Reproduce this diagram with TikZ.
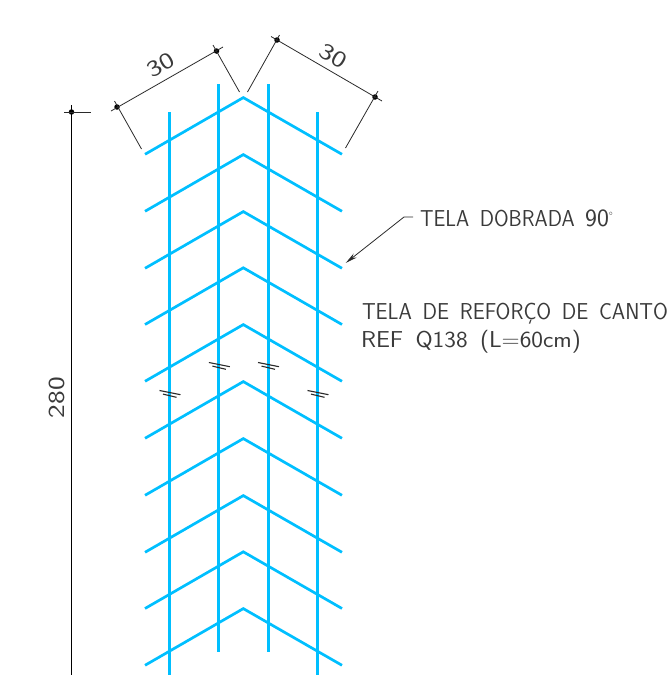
\documentclass[tikz,border=0pt]{standalone}
\usepackage{graphicx}
\usetikzlibrary{arrows.meta}
\definecolor{barblue}{HTML}{00BFFF}
\definecolor{dimgray}{HTML}{2A2A2A}
\definecolor{txtgray}{HTML}{3A3A3A}
\newcommand\fitw[2]{\resizebox{#1}{\height}{#2}}
\newcommand\smalldeg{\raisebox{6pt}{\fontsize{12}{12}\selectfont °}}
\tikzset{
  bar/.style={draw=barblue,line width=2.2pt},
  barmid/.style={draw=barblue,line width=3pt},
  chev/.style={draw=barblue,line width=2.7pt,line join=miter},
  dimln/.style={draw=dimgray,line width=0.8pt},
  brk/.style={draw=dimgray,line width=1.1pt},
  lbl/.style={inner sep=0pt,outer sep=0pt,text=txtgray,font=\sffamily\fontsize{23}{23}\selectfont},
  dotm/.style={circle,fill=black,inner sep=0pt,minimum size=5.5pt}
}
\begin{document}
\begin{tikzpicture}[x=1pt,y=-1pt]
\useasboundingbox (0,0) rectangle (669,675);
% chevrons
\foreach \a in {97.6,154.6,211.6,267.8,324.6,381.6,438.6,495.6,551.8,608.6}{
  \draw[chev] (145,\a+56.7) -- (243.3,\a) -- (342,\a+56.7);
}
% bars
\draw[bar] (169.5,112) -- (169.5,675);
\draw[barmid] (218.9,84) -- (218.9,652);
\draw[barmid] (268,84) -- (268,652);
\draw[bar] (317.5,112) -- (317.5,675);
% break marks
\foreach \x/\y in {169.5/392.5,218.9/364.5,268/364.5,317.5/392.5}{
  \draw[brk] (\x-10,\y-2) -- (\x+11,\y+2.2);
  \draw[brk] (\x-6.5,\y+1.6) -- (\x+7,\y+4.8);
}
% left dimension
\node[dotm] (dl1) at (117,107) {};
\node[dotm] (dl2) at (216.5,51) {};
\coordinate (el1) at (141.5,149);
\coordinate (el2) at (239.5,92);
\coordinate (tl1) at (111,111);
\coordinate (tl2) at (223,47);
\coordinate (tl3) at (114.5,101);
\coordinate (tl4) at (213,45);
\draw[dimln] (tl1) -- (tl2);
\draw[dimln] (tl3) -- (el1);
\draw[dimln] (tl4) -- (el2);
\node[lbl,rotate=30] (d30a) at (160.5,65) {\fitw{28pt}{30}};
% right dimension
\node[dotm] (dr1) at (277,40) {};
\node[dotm] (dr2) at (375,97) {};
\coordinate (er1) at (247.5,92);
\coordinate (er2) at (345.5,148);
\coordinate (tr1) at (271,36.5);
\coordinate (tr2) at (382,101);
\coordinate (tr3) at (279.5,35);
\coordinate (tr4) at (378,91);
\draw[dimln] (tr1) -- (tr2);
\draw[dimln] (tr3) -- (er1);
\draw[dimln] (tr4) -- (er2);
\node[lbl,rotate=-30] (d30b) at (333.5,55.5) {\fitw{28pt}{30}};
% vertical dimension
\node[dotm] (dv) at (71.5,112) {};
\coordinate (vt) at (71.5,105);
\coordinate (vb) at (71.5,675);
\coordinate (vh1) at (64,112);
\coordinate (vh2) at (91,112);
\draw[draw=black,line width=0.9pt] (vt) -- (vb);
\draw[dimln] (vh1) -- (vh2);
\node[lbl,rotate=90] (d280) at (56.5,397.5) {\fitw{41pt}{280}};
% labels
\node[lbl,anchor=base west] (t1) at (420,226) {\fitw{193pt}{TELA\enspace DOBRADA\enspace\scalebox{1.2}[1.08]{90}\smalldeg}};
\node[lbl,anchor=base west] (t2) at (362,319) {\fitw{306pt}{TELA\enspace DE\enspace REFORÇO\enspace DE\enspace CANTO}};
\node[lbl,anchor=base west] (t3) at (361,347) {\fitw{220pt}{REF\enspace Q138\enspace (L=60cm)}};
% leader
\coordinate (ltip) at (345.7,263);
\coordinate (lk) at (404,217);
\draw[dimln,-{Stealth[length=12pt,width=5pt]}] (413,217) -- (lk) -- (ltip);
\end{tikzpicture}
\end{document}
